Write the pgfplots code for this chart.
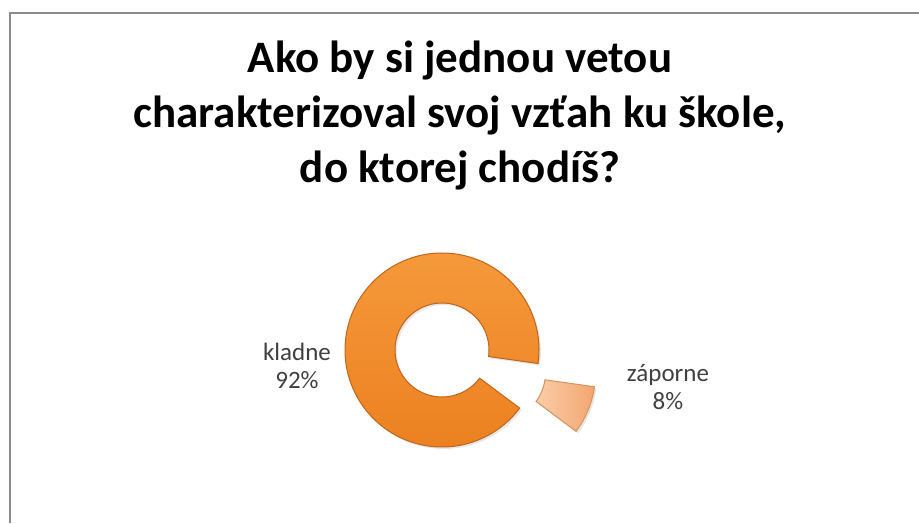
\documentclass[border=0pt]{standalone}
\usepackage{pgfplots}
\pgfplotsset{compat=1.18}
\usepackage{pgfplotstable}
\usepackage{fontspec}
\setmainfont{Carlito}
\usetikzlibrary{shadows}

\definecolor{ringtop}{HTML}{F59A3C}
\definecolor{ringbot}{HTML}{EC8020}
\definecolor{ringedge}{HTML}{C0661C}
\definecolor{slicelt}{HTML}{FBCDA8}
\definecolor{slicedk}{HTML}{F3A670}
\definecolor{labelgray}{HTML}{404040}
\definecolor{framegray}{HTML}{8C8C8C}

% share of each answer (%)
\pgfplotstableread{
label value
kladne 92
zaporne 8
}\piedata

\begin{document}
\begin{tikzpicture}
 \begin{axis}[
  scale only axis,
  width=919pt,
  height=523pt,
  xmin=0, xmax=919,
  ymin=0, ymax=523,
  axis lines=none,
  ticks=none,
  clip=false]

  \pgfplotstablegetelem{0}{value}\of\piedata \let\va\pgfplotsretval
  \pgfplotstablegetelem{1}{value}\of\piedata \let\vb\pgfplotsretval
  % zaporne from a0 to a1, kladne from a1 round to a0+360
  \pgfmathsetmacro\aa{-36.8}
  \pgfmathsetmacro\ab{\aa+3.6*\vb}
  \pgfmathsetmacro\ac{\ab+3.6*\va}
  \pgfmathsetmacro\mid{(\aa+\ab)/2}

  % frame (top and left edges only are in view)
  \draw[framegray, line width=1.6pt] (axis cs:10,0) -- (axis cs:10,510) -- (axis cs:919,510);

  \node[font=\fontsize{45}{55}\selectfont\bfseries, align=center, anchor=center]
   at (axis cs:460,407) {Ako by si jednou vetou\\charakterizoval svoj vzťah ku škole,\\do ktorej chodíš?};

  \begin{scope}[shift={(axis cs:442,173)}]
   \path[drop shadow={shadow xshift=2pt, shadow yshift=-2pt, opacity=0.2},
     top color=ringtop, bottom color=ringbot, draw=ringedge, line width=1pt]
    (\ab:97pt) arc[start angle=\ab, end angle=\ac, radius=97pt]
    -- (\ac:47pt) arc[start angle=\ac, end angle=\ab, radius=47pt] -- cycle;
   \begin{scope}[shift={(\mid:61pt)}]
    \path[drop shadow={shadow xshift=2pt, shadow yshift=-2pt, opacity=0.2},
      left color=slicelt, right color=slicedk, draw=ringedge!70, line width=1pt]
     (\aa:97pt) arc[start angle=\aa, end angle=\ab, radius=97pt]
     -- (\ab:47pt) arc[start angle=\ab, end angle=\aa, radius=47pt] -- cycle;
   \end{scope}
  \end{scope}

  \node[font=\fontsize{25}{28}\selectfont, text=labelgray, align=center]
   at (axis cs:297,157) {kladne\\\va\%};
  \node[font=\fontsize{25}{28}\selectfont, text=labelgray, align=center]
   at (axis cs:668,136) {záporne\\\vb\%};
 \end{axis}
 \pgfresetboundingbox
 \path (0,0) rectangle (919pt,523pt);
\end{tikzpicture}
\end{document}
